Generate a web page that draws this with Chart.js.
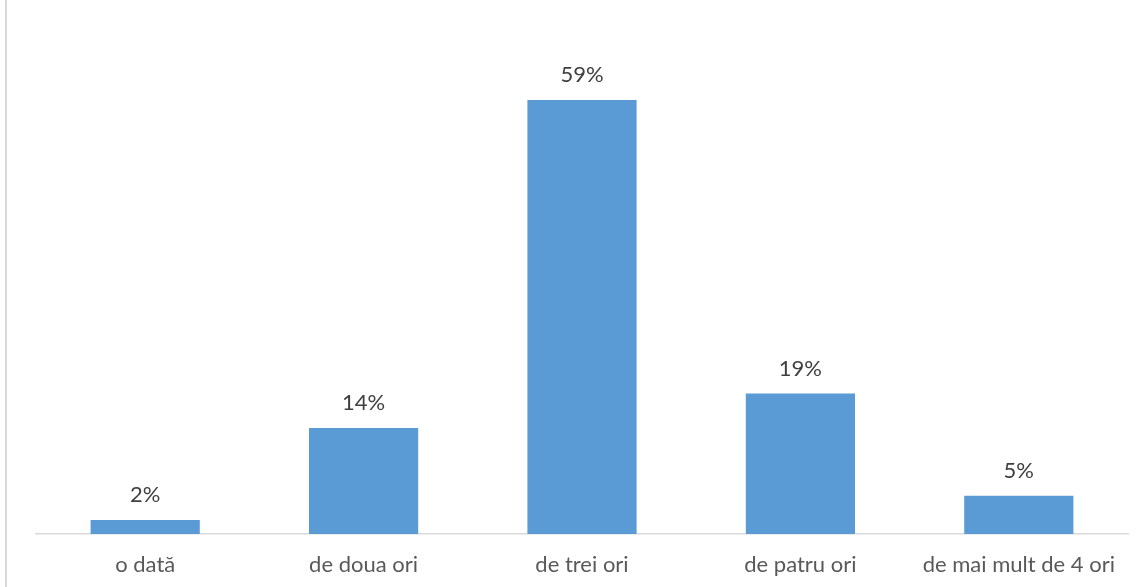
<!DOCTYPE html>
<html><head><meta charset="utf-8">
<script src="https://cdn.jsdelivr.net/npm/chart.js@4"></script>
<style>
html,body{margin:0;padding:0;background:#fff;}
#wrap{position:relative;width:1143px;height:587px;}
#edge{position:absolute;left:5px;top:0;width:2px;height:587px;background:#d9d9d9;}
canvas{position:absolute;left:0;top:0;}
</style></head>
<body>
<div id="wrap"><div id="edge"></div><canvas id="c" width="1143" height="587"></canvas></div>
<script>
const categories = ["o dată", "de doua ori", "de trei ori", "de patru ori", "de mai mult de 4 ori"];
const values = [1.9, 14.4, 59, 19.1, 5.2];
const valueLabels = ["2%", "14%", "59%", "19%", "5%"];

const FONT = "Lato, sans-serif";
const labelPlugin = {
  id: 'valLabels',
  afterDatasetsDraw(chart) {
    const ctx = chart.ctx;
    const meta = chart.getDatasetMeta(0);
    ctx.save();
    ctx.font = "22px " + FONT;
    ctx.fillStyle = "#404040";
    ctx.textAlign = "center";
    ctx.textBaseline = "middle";
    meta.data.forEach((bar, i) => {
      ctx.fillText(valueLabels[i], bar.x, bar.y - 25);
    });
    ctx.restore();
  }
};

new Chart(document.getElementById('c'), {
  type: 'bar',
  data: {
    labels: categories,
    datasets: [{
      data: values,
      backgroundColor: '#5B9BD5',
      borderWidth: 0,
      barPercentage: 0.5,
      categoryPercentage: 1.0
    }]
  },
  options: {
    responsive: false,
    animation: false,
    layout: { padding: { left: 36, right: 15, top: 19, bottom: 0 } },
    plugins: { legend: { display: false }, tooltip: { enabled: false } },
    scales: {
      x: {
        grid: { display: false, drawTicks: false },
        border: { display: true, color: '#d9d9d9', width: 1.5 },
        ticks: { color: '#595959', font: { family: FONT, size: 22 }, padding: 18, maxRotation: 0 },
        afterFit(scale) { scale.height = 53; }
      },
      y: {
        display: false,
        min: 0, max: 70
      }
    }
  },
  plugins: [labelPlugin]
});
</script>
</body></html>
